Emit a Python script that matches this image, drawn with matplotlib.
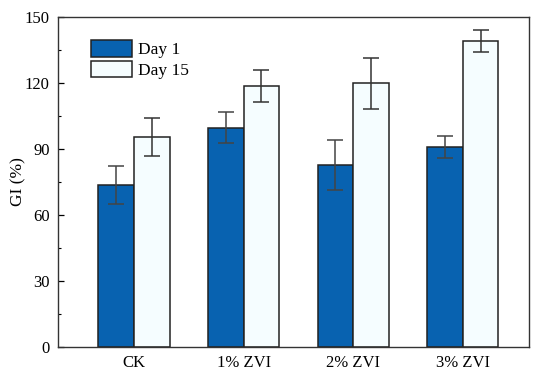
import numpy as np
import matplotlib
matplotlib.use("Agg")
import matplotlib.pyplot as plt
from matplotlib.ticker import MultipleLocator

plt.rcParams['font.family'] = ['Liberation Serif', 'DejaVu Serif']

groups = ["CK", "1% ZVI", "2% ZVI", "3% ZVI"]
day1 = [73.6, 99.7, 82.7, 91.0]
day1_err = [8.7, 7.0, 11.3, 5.0]
day15 = [95.3, 118.8, 119.8, 139.1]
day15_err = [8.6, 7.3, 11.5, 5.0]

x = np.arange(1, len(groups) + 1)
w = 0.324

fig = plt.figure(figsize=(5.5, 3.82), dpi=100)
ax = fig.add_axes([0.1055, 0.0916, 0.8565, 0.8639])

ax.bar(x - w / 2, day1, w, color="#0862b0", edgecolor="#222222", linewidth=1.1, label="Day 1", zorder=2)
ax.bar(x + w / 2, day15, w, color="#f5fdff", edgecolor="#222222", linewidth=1.1, label="Day 15", zorder=2)
ax.errorbar(x - w / 2, day1, yerr=day1_err, fmt="none", ecolor="#444444", elinewidth=1.1,
            capsize=6, capthick=1.1, zorder=3)
ax.errorbar(x + w / 2, day15, yerr=day15_err, fmt="none", ecolor="#333333", elinewidth=1.1,
            capsize=6, capthick=1.1, zorder=3)

ax.set_xlim(0.307, 4.604)
ax.set_ylim(0, 150)
ax.set_xticks(x)
ax.set_xticklabels(groups)
ax.yaxis.set_major_locator(MultipleLocator(30))
ax.yaxis.set_minor_locator(MultipleLocator(15))
ax.tick_params(axis="y", which="major", direction="in", length=4, width=0.9, labelsize=12, pad=6)
ax.tick_params(axis="y", which="minor", direction="in", length=2.5, width=0.8)
ax.tick_params(axis="x", length=0, labelsize=12, pad=6)
ax.set_ylabel("GI (%)", fontsize=12.5)
ax.yaxis.set_label_coords(-0.068, 0.5)
for s in ax.spines.values():
    s.set_linewidth(1.0)
    s.set_color("#333333")

ax.legend(loc="upper left", bbox_to_anchor=(0.036, 0.978), frameon=False, fontsize=12.5,
          handlelength=2.4, handleheight=1.1, labelspacing=0.15, handletextpad=0.35)

fig.savefig("out.png", dpi=100)
